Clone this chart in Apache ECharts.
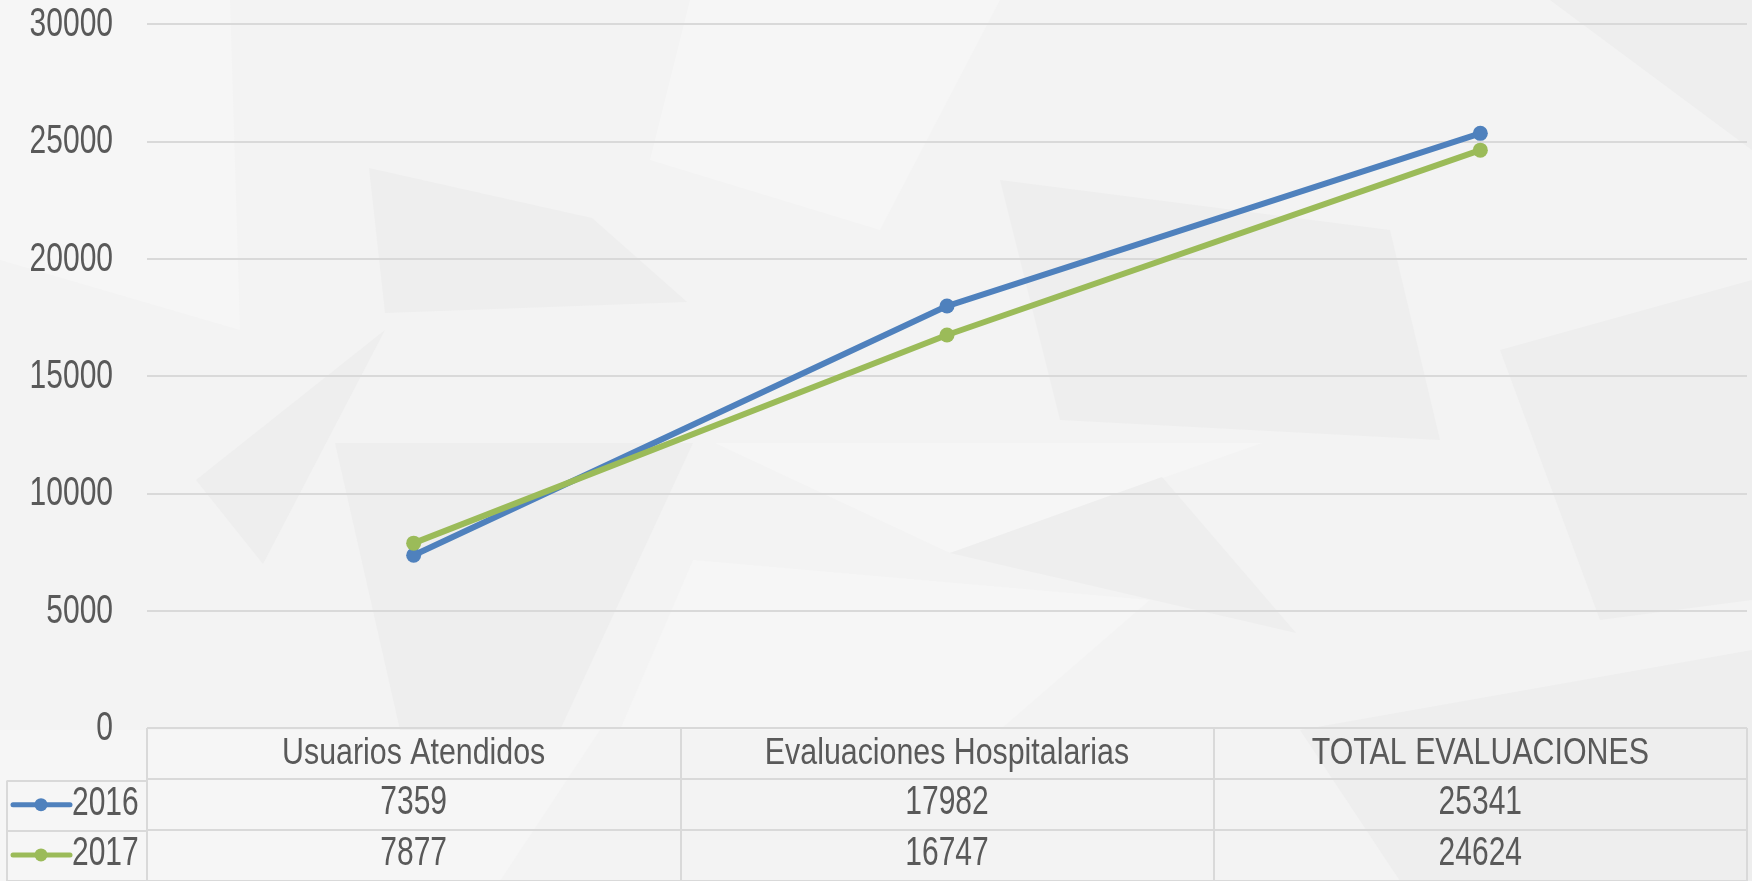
<!DOCTYPE html>
<html>
<head>
<meta charset="utf-8">
<script src="https://cdn.jsdelivr.net/npm/echarts@6/dist/echarts.min.js"></script>
<style>
  html, body { margin: 0; padding: 0; background: #f3f3f3; }
  #chart { width: 1752px; height: 881px; }
</style>
</head>
<body>
<div id="chart"></div>
<script>
// datos
const categories = ['Usuarios Atendidos', 'Evaluaciones Hospitalarias', 'TOTAL EVALUACIONES'];
const years = ['2016', '2017'];
const values2016 = [7359, 17982, 25341];
const values2017 = [7877, 16747, 24624];
const yTicks = [0, 5000, 10000, 15000, 20000, 25000, 30000];

const FONT = '"Liberation Sans", Arial, sans-serif';
const TXT = '#595959';
const LINE = '#d9d9d9';
const BLUE = '#4f81bd';
const GREEN = '#9bbb59';
const yearColors = [BLUE, GREEN];

// no hay Arial Narrow: se estrecha el texto con scaleX
const NUM_SIZE = 40, NUM_SX = 0.75;
const HEAD_SIZE = 37, HEAD_SX = 0.82;

// fondo decorativo de triangulos (aprox.)
const LIGHT = '#f6f6f6', DARK = '#eeeeee';
const bgPolys = [
  [LIGHT, [[0, 0], [230, 0], [240, 330], [0, 260]]],
  [DARK, [[369, 168], [592, 218], [687, 302], [385, 313]]],
  [DARK, [[196, 480], [385, 330], [263, 564]]],
  [LIGHT, [[690, 0], [1000, 0], [880, 230], [650, 160]]],
  [DARK, [[1000, 180], [1390, 230], [1440, 440], [1060, 420]]],
  [DARK, [[335, 443], [693, 443], [560, 730], [400, 730]]],
  [LIGHT, [[715, 443], [1262, 443], [950, 553]]],
  [DARK, [[950, 553], [1162, 477], [1296, 633]]],
  [LIGHT, [[693, 560], [1150, 600], [1000, 730], [620, 730]]],
  [DARK, [[1550, 0], [1752, 0], [1752, 150]]],
  [DARK, [[1500, 350], [1752, 280], [1752, 600], [1600, 620]]],
  [LIGHT, [[0, 730], [600, 730], [500, 881], [0, 881]]],
  [DARK, [[1300, 730], [1752, 650], [1752, 881], [1400, 881]]]
];

// celdas de la tabla
const tableRows = ['head'].concat(years);
const cells = [];
categories.forEach((c, i) => cells.push([i, 0, c]));
values2016.forEach((v, i) => cells.push([i, 1, String(v)]));
values2017.forEach((v, i) => cells.push([i, 2, String(v)]));

function narrowText(x, y, text, size, sx, align) {
  return {
    type: 'text', x: x, y: y, scaleX: sx,
    style: { text: text, x: 0, y: 0, align: align, verticalAlign: 'middle', fill: TXT, font: size + 'px ' + FONT }
  };
}

const chart = echarts.init(document.getElementById('chart'));

const hiddenCat = {
  type: 'category', boundaryGap: true,
  axisLine: { show: false }, axisTick: { show: false }, axisLabel: { show: false }
};
const tableSplit = { show: true, lineStyle: { color: LINE, width: 2 } };

const option = {
  backgroundColor: '#f3f3f3',
  animation: false,
  graphic: bgPolys.map(b => ({
    type: 'polygon', z: -100, silent: true,
    shape: { points: b[1] }, style: { fill: b[0] }
  })),
  grid: [
    { left: 147, right: 5, top: 24, bottom: 153 },
    { left: 147, right: 5, top: 728, height: 157.5 },
    { left: 7, width: 140, top: 780.5, height: 105 }
  ],
  xAxis: [
    Object.assign({}, hiddenCat, { gridIndex: 0, data: categories }),
    Object.assign({}, hiddenCat, { gridIndex: 1, data: categories, splitLine: tableSplit }),
    Object.assign({}, hiddenCat, { gridIndex: 2, data: [''], splitLine: tableSplit })
  ],
  yAxis: [
    {
      type: 'value', gridIndex: 0, min: 0, max: 30000, interval: 5000,
      axisLine: { show: false }, axisTick: { show: false }, axisLabel: { show: false },
      splitLine: { lineStyle: { color: LINE, width: 2 } }
    },
    Object.assign({}, hiddenCat, { gridIndex: 1, data: tableRows, inverse: true, splitLine: tableSplit }),
    Object.assign({}, hiddenCat, { gridIndex: 2, data: years, inverse: true, splitLine: tableSplit })
  ],
  series: [
    {
      name: '2016', type: 'line', data: values2016, xAxisIndex: 0, yAxisIndex: 0,
      symbol: 'circle', symbolSize: 15, color: BLUE,
      lineStyle: { width: 6, color: BLUE }, itemStyle: { color: BLUE }
    },
    {
      name: '2017', type: 'line', data: values2017, xAxisIndex: 0, yAxisIndex: 0,
      symbol: 'circle', symbolSize: 15, color: GREEN,
      lineStyle: { width: 6, color: GREEN }, itemStyle: { color: GREEN }
    },
    {
      // etiquetas del eje Y
      name: 'ejeY', type: 'custom', xAxisIndex: 0, yAxisIndex: 0, silent: true,
      data: yTicks.map(v => [0, v]),
      renderItem: (params, api) => {
        const p = api.coord([0, api.value(1)]);
        return narrowText(params.coordSys.x - 34, p[1] + 1, String(api.value(1)), NUM_SIZE, NUM_SX, 'right');
      }
    },
    {
      // texto de la tabla
      name: 'tabla', type: 'custom', xAxisIndex: 1, yAxisIndex: 1, silent: true,
      data: cells.map(c => [c[0], c[1]]),
      renderItem: (params, api) => {
        const c = cells[params.dataIndex];
        const p = api.coord([c[0], c[1]]);
        return c[1] === 0
          ? narrowText(p[0], p[1], c[2], HEAD_SIZE, HEAD_SX, 'center')
          : narrowText(p[0], p[1] - 2, c[2], NUM_SIZE, NUM_SX, 'center');
      }
    },
    {
      // claves de la leyenda en la tabla
      name: 'claves', type: 'custom', xAxisIndex: 2, yAxisIndex: 2, silent: true,
      data: years.map((y, i) => [0, i]),
      renderItem: (params, api) => {
        const i = params.dataIndex;
        const p = api.coord([0, i]);
        const x0 = params.coordSys.x;
        const cy = p[1] - 1;
        const col = yearColors[i];
        return {
          type: 'group',
          children: [
            { type: 'line', shape: { x1: x0 + 6, y1: cy, x2: x0 + 63, y2: cy }, style: { stroke: col, lineWidth: 5, lineCap: 'round' } },
            { type: 'circle', shape: { cx: x0 + 34, cy: cy, r: 6.5 }, style: { fill: col } },
            narrowText(x0 + 65, cy - 1, years[i], NUM_SIZE, NUM_SX, 'left')
          ]
        };
      }
    }
  ]
};

chart.setOption(option);
</script>
</body>
</html>
